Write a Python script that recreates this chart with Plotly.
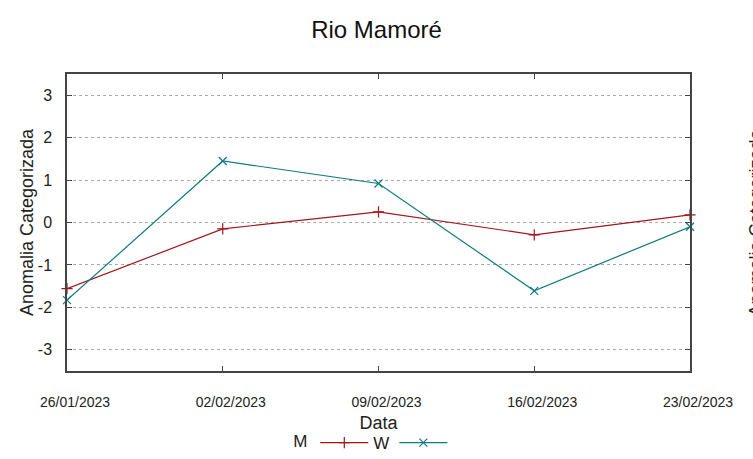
import plotly.graph_objects as go

datas = ["2023-01-26", "2023-02-02", "2023-02-09", "2023-02-16", "2023-02-23"]
rotulos = ["26/01/2023", "02/02/2023", "09/02/2023", "16/02/2023", "23/02/2023"]
serie_m = [-1.56, -0.15, 0.25, -0.29, 0.18]
serie_w = [-1.83, 1.45, 0.92, -1.61, -0.10]
y_ticks = [-3, -2, -1, 0, 1, 2, 3]

RED = "#a3161c"
TEAL = "#0f7b7b"
FONT = "Liberation Sans, Arial, sans-serif"

fig = go.Figure()
# legend order trick: title "M" then red sample, "W", then teal sample
fig.add_trace(go.Scatter(x=datas, y=serie_m, name="W", mode="lines+markers",
                         line=dict(color=RED, width=1.2),
                         marker=dict(symbol="cross-thin", size=8, line=dict(color=RED, width=1.2)),
                         hovertemplate="M: %{y}<extra></extra>", cliponaxis=False))
fig.add_trace(go.Scatter(x=datas, y=serie_w, name=" ", mode="lines+markers",
                         line=dict(color=TEAL, width=1.2),
                         marker=dict(symbol="x-thin", size=8, line=dict(color=TEAL, width=1.2)),
                         hovertemplate="W: %{y}<extra></extra>", cliponaxis=False))

fig.update_layout(
    width=753, height=459,
    margin=dict(l=67, r=63, t=74, b=88, autoexpand=False),
    paper_bgcolor="white", plot_bgcolor="white",
    font=dict(family=FONT, color="#222"),
    title=dict(text="Rio Mamoré", x=0.5, xanchor="center", y=0.935, yanchor="middle",
               font=dict(size=24, color="#111")),
    showlegend=True,
    legend=dict(orientation="h", x=0.497, xanchor="center", y=-0.182, yanchor="top",
                title=dict(text="M", side="left", font=dict(size=17)),
                font=dict(size=17), itemwidth=48, tracegroupgap=0,
                bgcolor="rgba(0,0,0,0)"),
    annotations=[dict(text="Anomalia Categorizada", xref="paper", yref="paper",
                      x=1.0, y=0.5, xshift=77, textangle=-90, showarrow=False,
                      font=dict(size=18, color="#222"))],
)

fig.update_xaxes(
    type="date", range=[datas[0], datas[-1]],
    tickvals=datas, ticktext=rotulos,
    ticks="inside", ticklen=5, tickcolor="#444", mirror="allticks",
    showline=True, linecolor="#444", linewidth=1.5,
    showgrid=False, zeroline=False,
    tickfont=dict(family="Liberation Sans Narrow, Liberation Sans, Arial", size=14, color="#222"),
    ticklabelstandoff=17, ticklabelshift=8,
    title=dict(text="Data", font=dict(size=18, color="#222"), standoff=8),
)
fig.update_yaxes(
    range=[-3.5, 3.5],
    tickvals=y_ticks, ticktext=[str(v) for v in y_ticks],
    ticks="inside", ticklen=5, tickcolor="#444", mirror="allticks",
    showline=True, linecolor="#444", linewidth=1.5,
    showgrid=True, gridcolor="#aaaaaa", griddash="dot", gridwidth=1,
    zeroline=False,
    tickfont=dict(size=16, color="#222"),
    ticklabelstandoff=10,
    title=dict(text="Anomalia Categorizada", font=dict(size=18, color="#222"), standoff=0),
)

fig.write_html("out.html", config={"displayModeBar": False},
               post_script="document.body.style.margin='0';document.body.style.overflow='hidden';")
